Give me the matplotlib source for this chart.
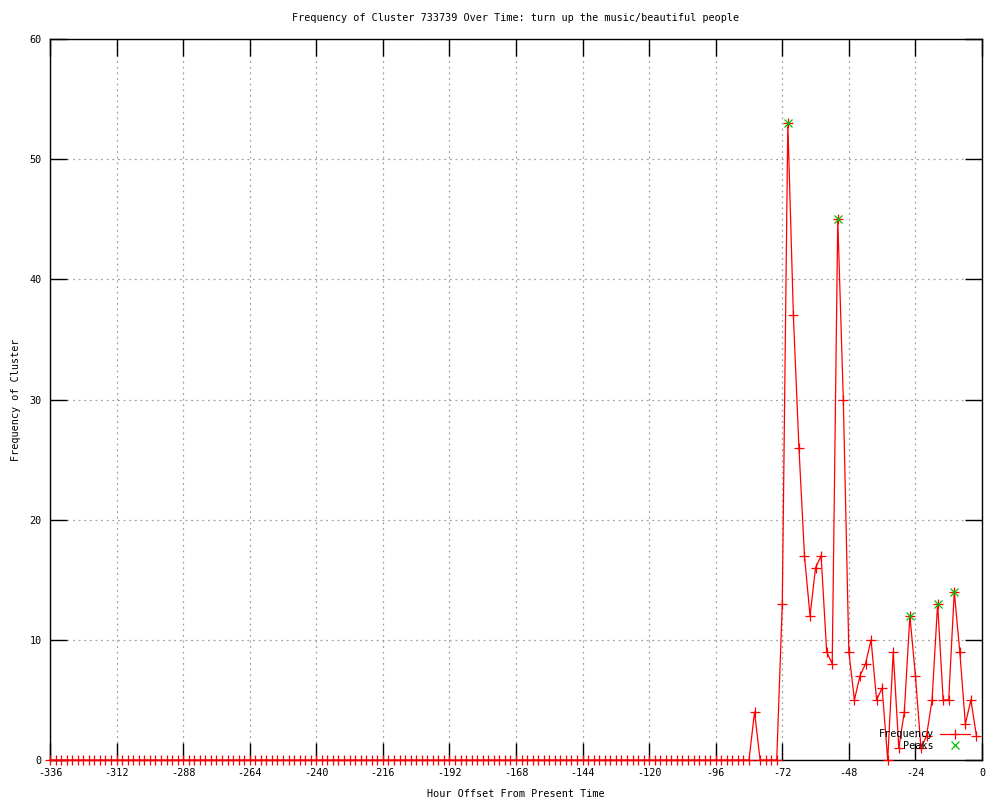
import numpy as np
import matplotlib
matplotlib.use("Agg")
import matplotlib.pyplot as plt

plt.rcParams['font.family'] = ['DejaVu Sans Mono']
plt.rcParams['font.size'] = 7.3
plt.rcParams['axes.unicode_minus'] = False

# hour offsets, every 2 hours from -336 to -2
hours = list(range(-336, 0, 2))

# nonzero frequencies (everything else is 0)
nonzero = {
    -82: 4, -72: 13, -70: 53, -68: 37, -66: 26, -64: 17, -62: 12,
    -60: 16, -58: 17, -56: 9, -54: 8, -52: 45, -50: 30, -48: 9,
    -46: 5, -44: 7, -42: 8, -40: 10, -38: 5, -36: 6, -34: 0,
    -32: 9, -30: 1, -28: 4, -26: 12, -24: 7, -22: 1, -20: 2,
    -18: 5, -16: 13, -14: 5, -12: 5, -10: 14, -8: 9, -6: 3,
    -4: 5, -2: 2,
}
freq = [nonzero.get(h, 0) for h in hours]

peak_hours = [-70, -52, -26, -16, -10]
peak_vals = [53, 45, 12, 13, 14]

fig = plt.figure(figsize=(10, 8), dpi=100)
ax = fig.add_axes([0.05, 0.05, 0.932, 0.90125])

ax.plot(hours, freq, color='red', lw=0.9, marker='+', ms=7, mew=0.9,
        label='Frequency', clip_on=False, zorder=3)
ax.plot(peak_hours, peak_vals, ls='none', color='#00c000', marker='x',
        ms=6, mew=0.9, label='Peaks', clip_on=False, zorder=4)

ax.set_xlim(-336, 0)
ax.set_ylim(0, 60)
ax.set_xticks(range(-336, 1, 24))
ax.set_yticks(range(0, 61, 10))
ax.tick_params(direction='in', length=12, width=1, top=True, right=True,
               pad=6)
ax.grid(True, color='#a0a0a0', ls=(0, (1.5, 3)), lw=0.9)
for s in ax.spines.values():
    s.set_linewidth(1)

ax.set_title('Frequency of Cluster 733739 Over Time: turn up the music/beautiful people',
             fontsize=7.3, pad=13)
ax.set_xlabel('Hour Offset From Present Time', labelpad=8)
ax.set_ylabel('Frequency of Cluster', labelpad=6)

ax.legend(loc='lower right', bbox_to_anchor=(0.995, 0.003), frameon=False,
          markerfirst=False, handlelength=3, handletextpad=0.6,
          borderpad=0.2, labelspacing=0.15, fontsize=7.3)

fig.savefig('out.png', dpi=100)
